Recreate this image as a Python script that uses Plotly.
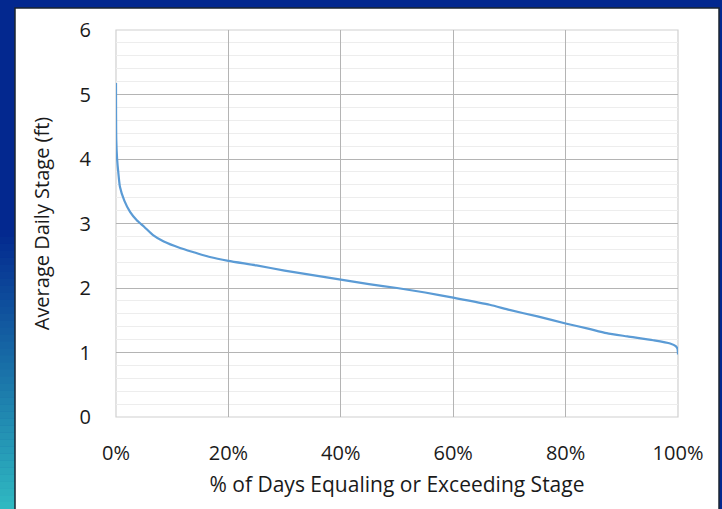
import plotly.graph_objects as go

# % of days equaling or exceeding stage
pct_days = [0, 0.05, 0.2, 0.4, 0.7, 1.5, 2.5, 3.7, 5, 6.6, 8.5, 11.4, 14, 16.7, 20,
            25, 30, 35, 40, 45, 50, 55, 60, 66.5, 70, 75, 80, 84, 87.3, 91, 95.6,
            98.6, 99.6, 99.9, 100]
# average daily stage (ft)
stage_ft = [5.18, 4.3, 4.0, 3.8, 3.57, 3.35, 3.18, 3.05, 2.95, 2.82, 2.72, 2.62, 2.55,
            2.48, 2.42, 2.35, 2.27, 2.2, 2.13, 2.06, 2.0, 1.93, 1.85, 1.74, 1.66, 1.56,
            1.45, 1.37, 1.30, 1.25, 1.19, 1.14, 1.10, 1.06, 0.97]

x_ticks = [0, 20, 40, 60, 80, 100]
x_labels = ['0%', '20%', '40%', '60%', '80%', '100%']
y_ticks = [0, 1, 2, 3, 4, 5, 6]

W, H = 722, 509
L, R, T, B = 116, 44, 30, 92
pw, ph = W - L - R, H - T - B


def px_x(p):
    return (p - L) / pw


def px_y(p):
    return (H - B - p) / ph


fig = go.Figure()
fig.add_trace(go.Scatter(
    x=pct_days, y=stage_ft, mode='lines',
    line=dict(color='#5b9bd5', width=2.2, shape='spline', smoothing=0.6),
    showlegend=False, hoverinfo='skip'
))

shapes = []
# left gradient strip (dark blue -> teal)
c0 = (3, 40, 143)
c1 = (48, 186, 194)
g_start, steps = 230, 40
for i in range(steps):
    y0 = g_start + (H - g_start) * i / steps
    y1 = g_start + (H - g_start) * (i + 1) / steps + 0.5
    t = (i + 0.5) / steps
    col = 'rgb(%d,%d,%d)' % tuple(int(a + (b - a) * t) for a, b in zip(c0, c1))
    shapes.append(dict(type='rect', xref='paper', yref='paper', layer='below',
                       x0=px_x(0), x1=px_x(15), y0=px_y(y1), y1=px_y(y0),
                       fillcolor=col, line=dict(width=0)))
# white panel
shapes.append(dict(type='rect', xref='paper', yref='paper', layer='below',
                   x0=px_x(15), x1=px_x(719), y0=px_y(H + 5), y1=px_y(8),
                   fillcolor='white', line=dict(color='#1b2430', width=1.5)))
# plot frame
shapes.append(dict(type='rect', xref='paper', yref='paper', layer='below',
                   x0=0, x1=1, y0=0, y1=1, line=dict(color='#d0d0d0', width=1.2)))

font = 'Open Sans, Calibri, sans-serif'
fig.update_layout(
    width=W, height=H,
    margin=dict(l=L, r=R, t=T, b=B),
    paper_bgcolor='#03288f',
    plot_bgcolor='rgba(0,0,0,0)',
    shapes=shapes,
    font=dict(family=font, size=20, color='#1a1a1a'),
    xaxis=dict(
        range=[0, 100], tickvals=x_ticks, ticktext=x_labels,
        showgrid=True, gridcolor='#b4b4b4', gridwidth=1,
        zeroline=False, showline=False, ticks='',
        ticklabelstandoff=22,
        title=dict(text='% of Days Equaling or Exceeding Stage', standoff=12,
                   font=dict(size=21)),
    ),
    yaxis=dict(
        range=[0, 6], tickvals=y_ticks,
        showgrid=True, gridcolor='#b4b4b4', gridwidth=1,
        minor=dict(dtick=0.2, showgrid=True, gridcolor='#ededed', gridwidth=1),
        zeroline=False, showline=False, ticks='',
        ticklabelstandoff=24,
        title=dict(text='Average Daily Stage (ft)', standoff=24,
                   font=dict(size=20)),
    ),
)

fig.write_html("out.html", config={'displayModeBar': False},
               post_script="document.body.style.margin='0';")
